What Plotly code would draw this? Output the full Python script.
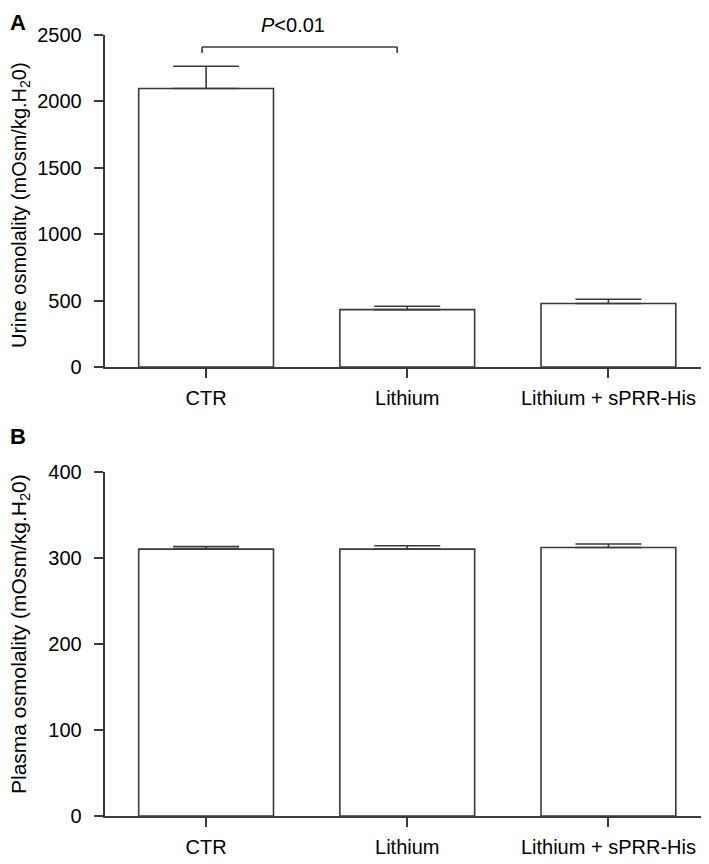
import plotly.graph_objects as go
from plotly.subplots import make_subplots

categories = ["CTR", "Lithium", "Lithium + sPRR-His"]
urine_mean = [2097, 432, 478]
urine_sem = [168, 26, 32]
plasma_mean = [310, 310, 312]
plasma_sem = [3, 4, 4]
urine_ticks = [0, 500, 1000, 1500, 2000, 2500]
plasma_ticks = [0, 100, 200, 300, 400]

OFF = 8  # page body margin
W, H = 709 - OFF, 864 - OFF
LINE = "#3a3a3a"
FONT = "Liberation Sans, Arial, sans-serif"


def fx(p):
    return (p - OFF) / W


def fy(p):
    return 1 - (p - OFF) / H


fig = make_subplots(rows=2, cols=1)

for row, vals, errs in [(1, urine_mean, urine_sem), (2, plasma_mean, plasma_sem)]:
    fig.add_trace(go.Bar(
        x=[0, 1, 2], y=vals, width=0.67,
        marker=dict(color="white", line=dict(color=LINE, width=1.6)),
        error_y=dict(type="data", array=errs, arrayminus=[0] * 3, symmetric=False,
                     color=LINE, thickness=1.6, width=33),
        showlegend=False,
    ), row=row, col=1)

fig.update_layout(
    template="none",
    width=W, height=H,
    margin=dict(l=0, r=0, t=0, b=0, autoexpand=False),
    paper_bgcolor="white", plot_bgcolor="white",
    font=dict(family=FONT, size=20, color="black"),
    xaxis=dict(domain=[fx(104.5), 1], anchor="y"),
    xaxis2=dict(domain=[fx(104.5), 1], anchor="y2"),
    yaxis=dict(domain=[fy(367), fy(35)], anchor="x"),
    yaxis2=dict(domain=[fy(816), fy(471.7)], anchor="x2"),
)

axis_common = dict(showline=True, linecolor=LINE, linewidth=1.6, ticks="outside",
                   ticklen=9, tickwidth=1.6, tickcolor=LINE, showgrid=False,
                   zeroline=False, automargin=False,
                   tickfont=dict(family=FONT, size=20, color="black"))
for r in (1, 2):
    fig.update_xaxes(range=[-0.505, 2.5], tickvals=[0, 1, 2], ticktext=categories,
                     ticklabelstandoff=3, row=r, col=1, **axis_common)
fig.update_yaxes(range=[0, 2500], tickvals=urine_ticks, row=1, col=1,
                 ticklabelstandoff=8, **axis_common)
fig.update_yaxes(range=[0, 400], tickvals=plasma_ticks, row=2, col=1,
                 ticklabelstandoff=8, **axis_common)

# significance bracket
bx0, bx1, by, bt = -0.02, 0.95, 2410, 2365
for xs, ys in [([bx0, bx0], [bt, by]), ([bx0, bx1], [by, by]), ([bx1, bx1], [by, bt])]:
    fig.add_shape(type="line", xref="x", yref="y", x0=xs[0], x1=xs[1], y0=ys[0], y1=ys[1],
                  line=dict(color=LINE, width=1.6))
fig.add_annotation(x=0.43, y=fy(25), xref="x", yref="paper",
                   xanchor="center", yanchor="middle",
                   text="<i>P</i>&lt;0.01", showarrow=False,
                   font=dict(family=FONT, size=20, color="black"))

# axis titles
fig.add_annotation(x=fx(20), y=fy(205), xref="paper", yref="paper", textangle=-90,
                   xanchor="center", yanchor="middle",
                   text="Urine osmolality (mOsm/kg.H<sub>2</sub>0)", showarrow=False,
                   font=dict(family=FONT, size=20, color="black"))
fig.add_annotation(x=fx(20), y=fy(634), xref="paper", yref="paper", textangle=-90,
                   xanchor="center", yanchor="middle",
                   text="Plasma osmolality (mOsm/kg.H<sub>2</sub>0)", showarrow=False,
                   font=dict(family=FONT, size=21, color="black"))

# panel letters
fig.add_annotation(x=0, y=1, xref="paper", yref="paper", text="<b>A</b>",
                   showarrow=False, xanchor="left", yanchor="top",
                   font=dict(family=FONT, size=22, color="black"))
fig.add_annotation(x=0, y=fy(436), xref="paper", yref="paper", text="<b>B</b>",
                   showarrow=False, xanchor="left", yanchor="middle",
                   font=dict(family=FONT, size=22, color="black"))

fig.write_html("out.html")
